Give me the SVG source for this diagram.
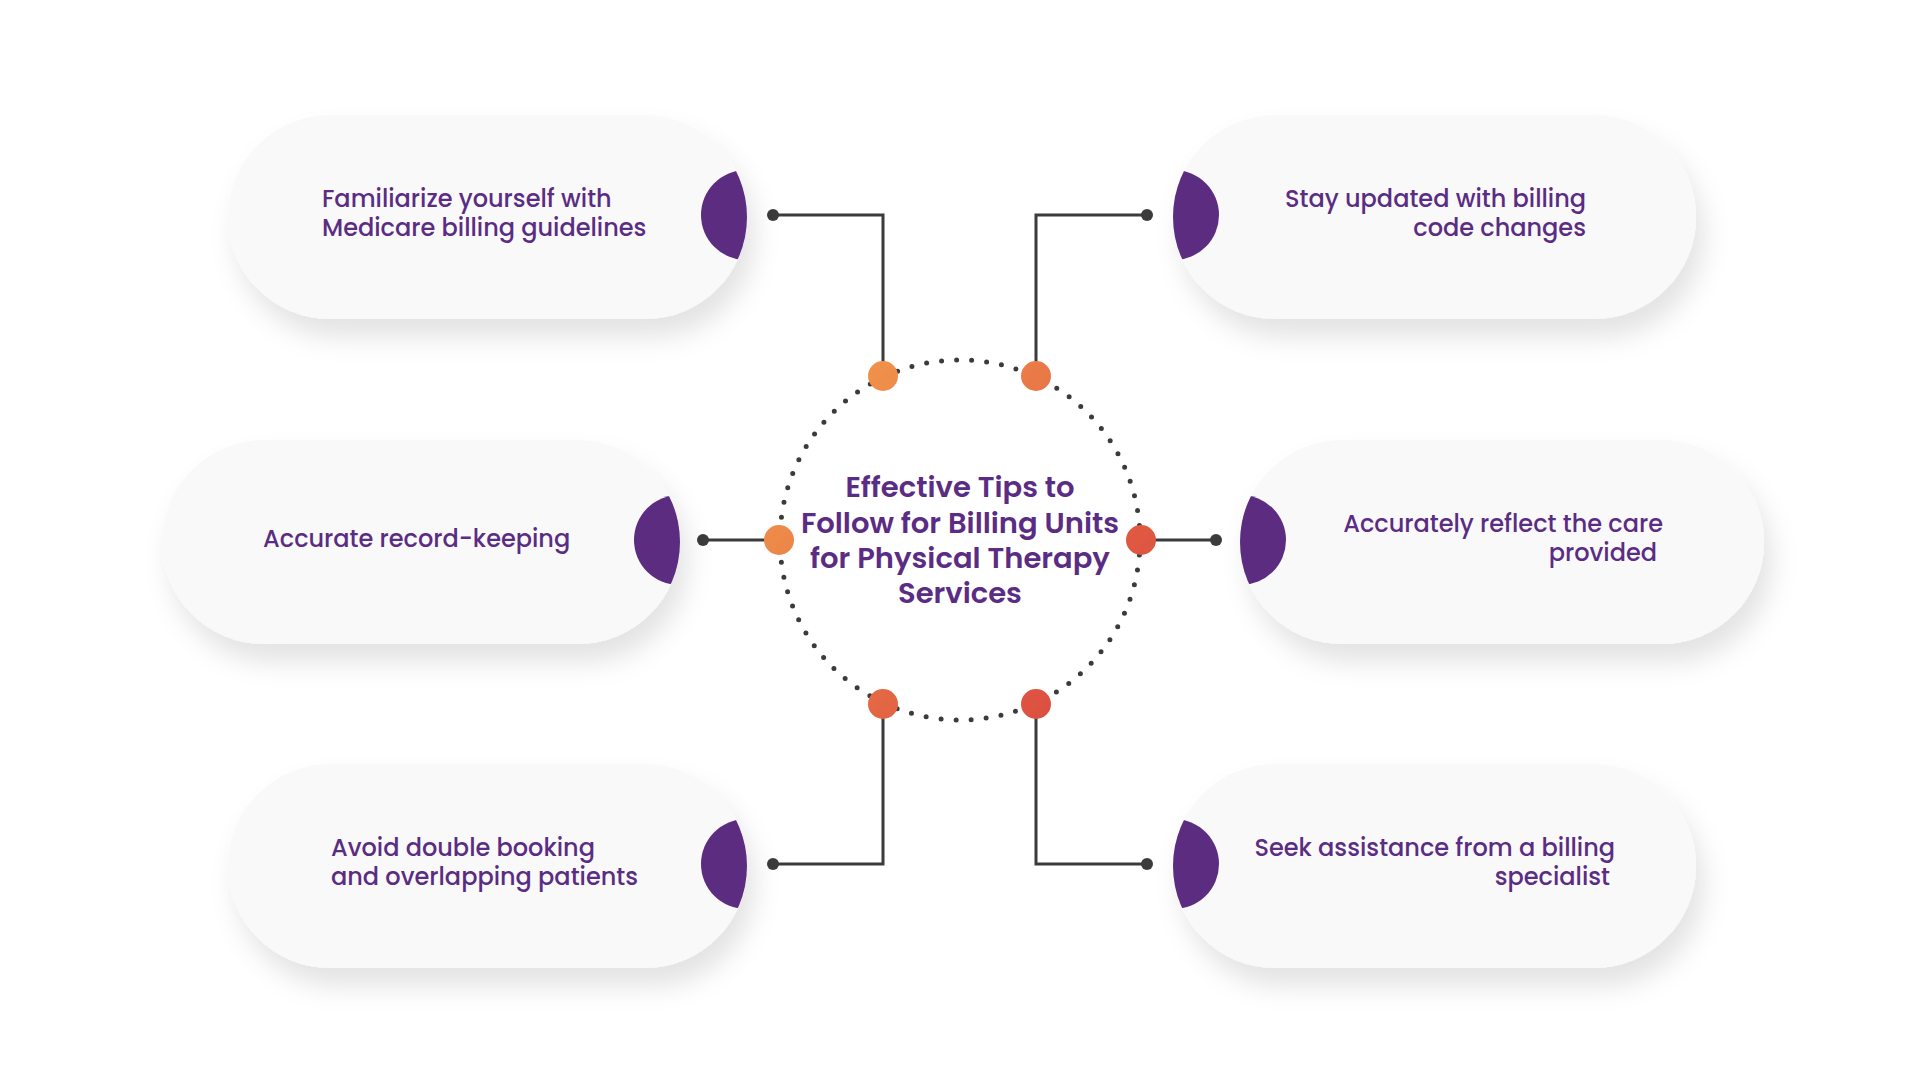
<svg xmlns="http://www.w3.org/2000/svg" width="1920" height="1080" viewBox="0 0 1920 1080">
<defs>
<style>
.pill{fill:#f9f9f9;filter:url(#sh);}
.lens{fill:#5b2c80;}
.lbl{font-family:Poppins,Inter,"Noto Sans",sans-serif;font-size:24px;font-weight:500;fill:#5b2c83;}
.title{font-family:Poppins,Inter,"Noto Sans",sans-serif;font-size:29px;font-weight:600;fill:#5b2c83;text-anchor:middle;}
.end{text-anchor:end;}
.con{fill:none;stroke:#3b3b3b;stroke-width:3;}
.tip{fill:#3b3b3b;}
.hub{fill:url(#og);}
</style>
<filter id="sh" x="-20%" y="-30%" width="140%" height="170%">
<feDropShadow dx="8" dy="18" stdDeviation="13" flood-color="#000" flood-opacity="0.11"/>
</filter>
<linearGradient id="og" gradientUnits="userSpaceOnUse" x1="780" y1="376" x2="1141" y2="704">
<stop offset="0" stop-color="#f39c4c"/>
<stop offset="1" stop-color="#d9443f"/>
</linearGradient>
<clipPath id="cTL"><rect x="228" y="115" width="519" height="204" rx="102"/></clipPath>
<clipPath id="cTR"><rect x="1173" y="115" width="523" height="204" rx="102"/></clipPath>
<clipPath id="cML"><rect x="162" y="440" width="518" height="204" rx="102"/></clipPath>
<clipPath id="cMR"><rect x="1240" y="440" width="524" height="204" rx="102"/></clipPath>
<clipPath id="cBL"><rect x="228" y="764" width="519" height="204" rx="102"/></clipPath>
<clipPath id="cBR"><rect x="1173" y="764" width="523" height="204" rx="102"/></clipPath>
</defs>
<rect width="1920" height="1080" fill="#ffffff"/>

<g id="connectors">
<path class="con" d="M883,362 V215 H773"/>
<circle class="tip" cx="773" cy="215" r="6"/>
<path class="con" d="M1036,362 V215 H1147"/>
<circle class="tip" cx="1147" cy="215" r="6"/>
<path class="con" d="M765,540 H703"/>
<circle class="tip" cx="703" cy="540" r="6"/>
<path class="con" d="M1155,540 H1216"/>
<circle class="tip" cx="1216" cy="540" r="6"/>
<path class="con" d="M883,718 V864 H773"/>
<circle class="tip" cx="773" cy="864" r="6"/>
<path class="con" d="M1036,718 V864 H1147"/>
<circle class="tip" cx="1147" cy="864" r="6"/>
</g>

<g id="node-center">
<circle cx="960" cy="540" r="180" fill="none" stroke="#3b3b3b" stroke-width="5" stroke-linecap="round" stroke-dasharray="0 15.08"/>
<circle class="hub" cx="883" cy="376" r="15"/>
<circle class="hub" cx="1036" cy="376" r="15"/>
<circle class="hub" cx="779" cy="540" r="15"/>
<circle class="hub" cx="1141" cy="540" r="15"/>
<circle class="hub" cx="883" cy="704" r="15"/>
<circle class="hub" cx="1036" cy="704" r="15"/>
<text class="title" x="960" y="497">Effective Tips to</text>
<text class="title" x="960" y="533">Follow for Billing Units</text>
<text class="title" x="960" y="568">for Physical Therapy</text>
<text class="title" x="960" y="603">Services</text>
</g>

<g id="node-tl">
<rect class="pill" x="228" y="115" width="519" height="204" rx="102"/>
<circle class="lens" cx="746" cy="215" r="45" clip-path="url(#cTL)"/>
<text class="lbl" x="322" y="207">Familiarize yourself with</text>
<text class="lbl" x="322" y="236">Medicare billing guidelines</text>
</g>

<g id="node-tr">
<rect class="pill" x="1173" y="115" width="523" height="204" rx="102"/>
<circle class="lens" cx="1174" cy="215" r="45" clip-path="url(#cTR)"/>
<text class="lbl end" x="1586" y="207">Stay updated with billing</text>
<text class="lbl end" x="1586" y="236">code changes</text>
</g>

<g id="node-ml">
<rect class="pill" x="162" y="440" width="518" height="204" rx="102"/>
<circle class="lens" cx="679" cy="540" r="45" clip-path="url(#cML)"/>
<text class="lbl" x="263" y="547">Accurate record-keeping</text>
</g>

<g id="node-mr">
<rect class="pill" x="1240" y="440" width="524" height="204" rx="102"/>
<circle class="lens" cx="1241" cy="540" r="45" clip-path="url(#cMR)"/>
<text class="lbl end" x="1663" y="532">Accurately reflect the care</text>
<text class="lbl end" x="1657" y="561">provided</text>
</g>

<g id="node-bl">
<rect class="pill" x="228" y="764" width="519" height="204" rx="102"/>
<circle class="lens" cx="746" cy="864" r="45" clip-path="url(#cBL)"/>
<text class="lbl" x="331" y="856">Avoid double booking</text>
<text class="lbl" x="331" y="885">and overlapping patients</text>
</g>

<g id="node-br">
<rect class="pill" x="1173" y="764" width="523" height="204" rx="102"/>
<circle class="lens" cx="1174" cy="864" r="45" clip-path="url(#cBR)"/>
<text class="lbl end" x="1615" y="856">Seek assistance from a billing</text>
<text class="lbl end" x="1610" y="885">specialist</text>
</g>
</svg>
